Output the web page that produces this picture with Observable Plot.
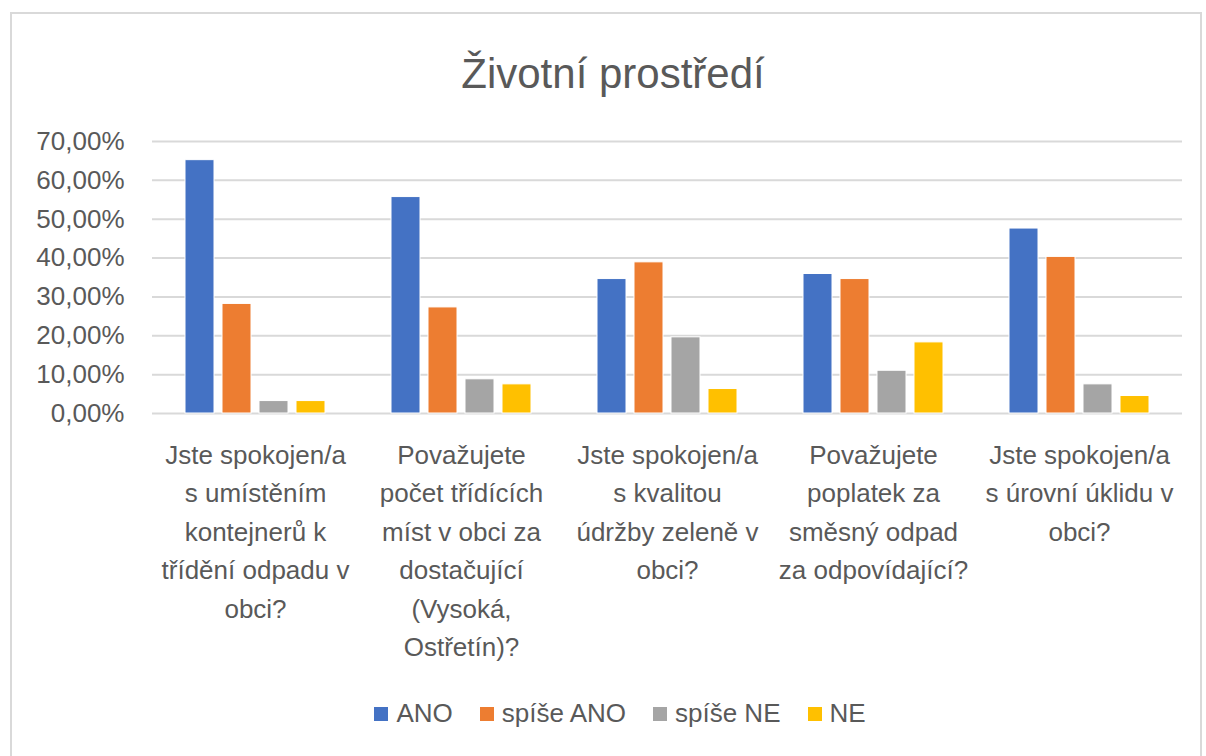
<!DOCTYPE html>
<html>
<head>
<meta charset="utf-8">
<script src="https://cdn.jsdelivr.net/npm/d3@7"></script>
<script src="https://cdn.jsdelivr.net/npm/@observablehq/plot@0.6"></script>
<style>
  html, body { margin: 0; padding: 0; background: #fff; }
  body { width: 1206px; height: 756px; position: relative; overflow: hidden; font-family: "Liberation Sans", Arial, sans-serif; color: #595959; }
  #frame { position: absolute; left: 10px; top: 12px; width: 1192px; height: 800px; border: 2px solid #d9d9d9; box-sizing: border-box; }
  #title { position: absolute; left: 0; top: 46px; width: 1226px; text-align: center; font-size: 42px; line-height: 56px; color: #595959; }
  #chart { position: absolute; left: 0; top: 120px; }
  #legend { position: absolute; left: 0; top: 698px; width: 1240px; display: flex; justify-content: center; align-items: center; gap: 27px; font-size: 26px; color: #595959; }
  #legend .item { display: flex; align-items: center; gap: 8px; }
  #legend .sw { width: 14px; height: 14px; display: inline-block; }
</style>
</head>
<body>
<div id="frame"></div>
<div id="title">Životní prostředí</div>
<div id="chart"></div>
<div id="legend"></div>
<script>
// ---- data ----
const questions = [
  "Jste spokojen/a s umístěním kontejnerů k třídění odpadu v obci?",
  "Považujete počet třídících míst v obci za dostačující (Vysoká, Ostřetín)?",
  "Jste spokojen/a s kvalitou údržby zeleně v obci?",
  "Považujete poplatek za směsný odpad za odpovídající?",
  "Jste spokojen/a s úrovní úklidu v obci?"
];
const tickLabels = [
  "Jste spokojen/a\ns umístěním\nkontejnerů k\ntřídění odpadu v\nobci?",
  "Považujete\npočet třídících\nmíst v obci za\ndostačující\n(Vysoká,\nOstřetín)?",
  "Jste spokojen/a\ns kvalitou\núdržby zeleně v\nobci?",
  "Považujete\npoplatek za\nsměsný odpad\nza odpovídající?",
  "Jste spokojen/a\ns úrovní úklidu v\nobci?"
];
const series = ["ANO", "spíše ANO", "spíše NE", "NE"];
const colors = ["#4472C4", "#ED7D31", "#A5A5A5", "#FFC000"];
const valuesANO      = [0.652, 0.557, 0.346, 0.359, 0.476];
const valuesSpiseANO = [0.282, 0.273, 0.389, 0.346, 0.403];
const valuesSpiseNE  = [0.032, 0.088, 0.196, 0.110, 0.075];
const valuesNE       = [0.032, 0.075, 0.063, 0.183, 0.045];
const yTicks = [0, 0.1, 0.2, 0.3, 0.4, 0.5, 0.6, 0.7];

// ---- table ----
const seriesValues = [valuesANO, valuesSpiseANO, valuesSpiseNE, valuesNE];
const data = [];
questions.forEach((q, i) => {
  series.forEach((s, j) => data.push({question: q, series: s, value: seriesValues[j][i]}));
});
const labelOf = new Map(questions.map((q, i) => [q, tickLabels[i]]));
const fmt = d => (d * 100).toFixed(2).replace(".", ",") + "%";

const chart = Plot.plot({
  width: 1206,
  height: 560,
  marginLeft: 151,
  marginRight: 24,
  marginTop: 21,
  marginBottom: 267,
  style: {fontFamily: "'Liberation Sans', Arial, sans-serif", color: "#595959", background: "transparent"},
  fx: {domain: questions, padding: 0, label: null},
  x: {domain: series, paddingInner: 0.227, paddingOuter: 0.86, axis: null},
  y: {domain: [0, 0.7], axis: null},
  color: {domain: series, range: colors},
  marks: [
    Plot.gridY(yTicks, {stroke: "#d9d9d9", strokeOpacity: 1, strokeWidth: 2}),
    Plot.axisY({ticks: yTicks, tickFormat: fmt, tickSize: 0, tickPadding: 28, fontSize: 26, label: null}),
    Plot.axisFx({anchor: "bottom", tickSize: 0, tickPadding: 23, fontSize: 26, lineHeight: 1.48, label: null, tickFormat: d => labelOf.get(d)}),
    Plot.barY(data, {fx: "question", x: "series", y: "value", fill: "series", stroke: "white", strokeWidth: 1})
  ]
});
document.getElementById("chart").appendChild(chart);

const legend = document.getElementById("legend");
series.forEach((s, i) => {
  const item = document.createElement("div");
  item.className = "item";
  const sw = document.createElement("span");
  sw.className = "sw";
  sw.style.background = colors[i];
  const t = document.createElement("span");
  t.textContent = s;
  item.appendChild(sw);
  item.appendChild(t);
  legend.appendChild(item);
});
</script>
</body>
</html>
